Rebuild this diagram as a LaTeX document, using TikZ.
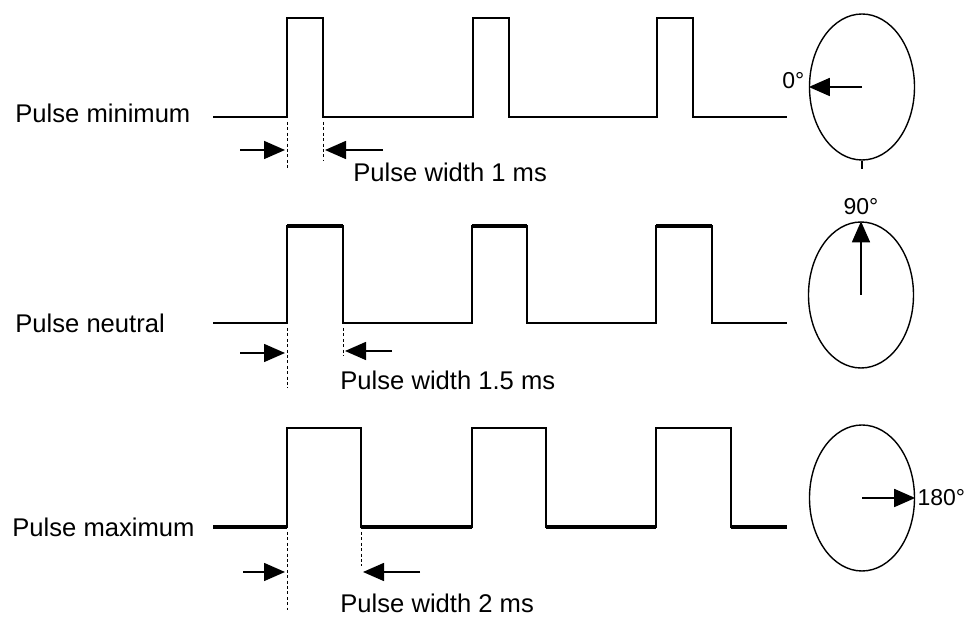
\documentclass[tikz,border=0pt]{standalone}
\usepackage{fontspec}
\setmainfont{Liberation Sans}
\usetikzlibrary{shapes.geometric, arrows.meta, positioning}
\tikzset{>={Triangle}}

\begin{document}
\begin{tikzpicture}[
  x=0.5pt, y=-0.5pt,
  wave/.style={line width=0.8pt},
  heavy/.style={line width=1.9pt},
  extline/.style={dash pattern=on 1.5pt off 1.2pt, line width=0.5pt},
  dimarrow/.style={-{Triangle[length=10.5pt,width=9pt]}, line width=0.8pt},
  lbl/.style={font=\fontsize{12.8}{15}\selectfont, inner sep=0pt},
  deg/.style={font=\fontsize{11.5}{13}\selectfont, inner sep=0pt},
  dial/.style={ellipse, draw, line width=0.7pt, minimum width=52.5pt, minimum height=73pt, inner sep=0pt}
]
  \useasboundingbox (0,0) rectangle (971,619);

  % Labels
  \node[lbl, anchor=west] (lblMin) at (15,113) {Pulse minimum};
  \node[lbl, anchor=west] (lblNeu) at (15,323) {Pulse neutral};
  \node[lbl, anchor=west] (lblMax) at (12,527) {Pulse maximum};

  % ---- Waveforms ----
  % minimum: 1 ms
  \draw[wave] (213,117) -- (287,117) -- (287,18) -- (323,18) -- (323,117)
    -- (473,117) -- (473,18) -- (509,18) -- (509,117)
    -- (657,117) -- (657,18) -- (693,18) -- (693,117) -- (787,117);

  % neutral: 1.5 ms
  \draw[wave] (213,323) -- (287,323) -- (287,226) -- (343,226) -- (343,323)
    -- (472,323) -- (472,226) -- (527,226) -- (527,323)
    -- (656,323) -- (656,226) -- (712,226) -- (712,323) -- (787,323);
  \draw[heavy] (287,226) -- (343,226);
  \draw[heavy] (472,226) -- (527,226);
  \draw[heavy] (656,226) -- (712,226);

  % maximum: 2 ms
  \draw[wave] (213,527) -- (287,527) -- (287,428) -- (361,428) -- (361,527)
    -- (472,527) -- (472,428) -- (546,428) -- (546,527)
    -- (656,527) -- (656,428) -- (731,428) -- (731,527) -- (787,527);
  \draw[heavy] (213,527) -- (287,527);
  \draw[heavy] (361,527) -- (472,527);
  \draw[heavy] (546,527) -- (656,527);
  \draw[heavy] (731,527) -- (787,527);

  % ---- Pulse widths ----
  \coordinate (a1) at (240,150);  \coordinate (b1) at (285,150);
  \coordinate (c1) at (383,150);  \coordinate (d1) at (325,150);
  \draw[extline] (287,122) -- (287,168);
  \draw[extline] (323,122) -- (323,160);
  \draw[dimarrow] (a1) -- (b1);
  \draw[dimarrow] (c1) -- (d1);
  \node[lbl, anchor=west] (wMin) at (353,172) {Pulse width 1 ms};

  \coordinate (a2) at (240,353);  \coordinate (b2) at (285,353);
  \coordinate (c2) at (392,351);  \coordinate (d2) at (345,351);
  \draw[extline] (287,328) -- (287,388);
  \draw[extline] (343,328) -- (343,356);
  \draw[dimarrow] (a2) -- (b2);
  \draw[dimarrow] (c2) -- (d2);
  \node[lbl, anchor=west] (wNeu) at (340,380) {Pulse width 1.5 ms};

  \coordinate (a3) at (243,572);  \coordinate (b3) at (285,572);
  \coordinate (c3) at (420,572);  \coordinate (d3) at (363,572);
  \draw[extline] (287,532) -- (287,610);
  \draw[extline] (361,532) -- (361,566);
  \draw[dimarrow] (a3) -- (b3);
  \draw[dimarrow] (c3) -- (d3);
  \node[lbl, anchor=west] (wMax) at (340,603) {Pulse width 2 ms};

  % ---- Servo dials ----
  \node[dial] (dialMin) at (862,87) {};
  \node[dial] (dialNeu) at (861,295) {};
  \node[dial] (dialMax) at (862,498) {};

  \draw[dimarrow] (dialMin.center) -- (dialMin.west);
  \draw[dimarrow] (dialNeu.center) -- (dialNeu.north);
  \draw[dimarrow] (dialMax.center) -- (dialMax.east);
  \draw[wave] (dialMin.south) -- ++(0,8);

  \node[deg, left=2pt of dialMin.west, yshift=3pt] (degMin) {0°};
  \node[deg, above=3pt of dialNeu.north] (degNeu) {90°};
  \node[deg, right=1pt of dialMax.east] (degMax) {180°};
\end{tikzpicture}
\end{document}
